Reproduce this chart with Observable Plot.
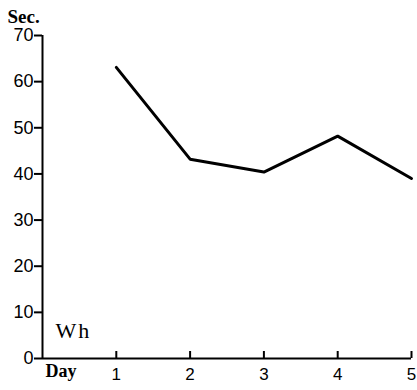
<!DOCTYPE html>
<html>
<head>
<meta charset="utf-8">
<script src="https://cdn.jsdelivr.net/npm/d3@7"></script>
<script src="https://cdn.jsdelivr.net/npm/@observablehq/plot@0.6"></script>
<style>
  html, body { margin: 0; padding: 0; background: #fff; }
  #chart svg { display: block; }
</style>
</head>
<body>
<div id="chart"></div>
<script>
const days = [1, 2, 3, 4, 5];
const seconds = [63.1, 43.2, 40.4, 48.2, 39.0];
const yTicks = [0, 10, 20, 30, 40, 50, 60, 70];
const yLabel = "Sec.";
const xLabel = "Day";
const seriesLabel = "Wh";

const data = days.map((d, i) => ({day: d, sec: seconds[i]}));

const chart = Plot.plot({
  width: 417,
  height: 390,
  marginLeft: 42,
  marginRight: 6,
  marginTop: 35,
  marginBottom: 32,
  style: {background: "#fff", color: "#000", fontFamily: "'Liberation Sans', Arial, sans-serif"},
  x: {domain: [0, 5]},
  y: {domain: [0, 70]},
  marks: [
    Plot.axisY(yTicks, {tickSize: 8, tickPadding: 1, fontSize: 18, stroke: "#000", strokeWidth: 2, fill: "#000", label: null}),
    Plot.axisX(days, {tickSize: 0, tickPadding: 9, fontSize: 17, fill: "#000", label: null}),
    Plot.ruleX([0], {y1: 0, y2: 70, stroke: "#000", strokeWidth: 2}),
    Plot.ruleY([0], {x1: 0, x2: 5, stroke: "#000", strokeWidth: 2}),
    Plot.ruleX(days, {x: d => d, y1: () => 0, y2: () => 0, insetTop: -7, stroke: "#000", strokeWidth: 2}),
    Plot.line(data, {x: "day", y: "sec", stroke: "#000", strokeWidth: 3, strokeLinejoin: "miter"}),
    Plot.text([yLabel], {frameAnchor: "top-left", textAnchor: "start", dx: -35, dy: -26, fontSize: 19, fontWeight: "bold", fontFamily: "'Liberation Serif', serif", fill: "#000", text: d => d}),
    Plot.text([xLabel], {frameAnchor: "bottom-left", textAnchor: "start", dx: 3, dy: 18, fontSize: 18, fontWeight: "bold", fontFamily: "'Liberation Serif', serif", fill: "#000", text: d => d, style: "letter-spacing:1px"}),
    Plot.text([seriesLabel], {frameAnchor: "bottom-left", textAnchor: "start", dx: 13, dy: -21, fontSize: 22, fontFamily: "'Liberation Serif', serif", fill: "#000", text: d => d})
  ]
});
chart.querySelectorAll("text").forEach(t => { if (t.textContent === "Wh") t.setAttribute("letter-spacing", "2"); });
document.getElementById("chart").append(chart);
</script>
</body>
</html>
